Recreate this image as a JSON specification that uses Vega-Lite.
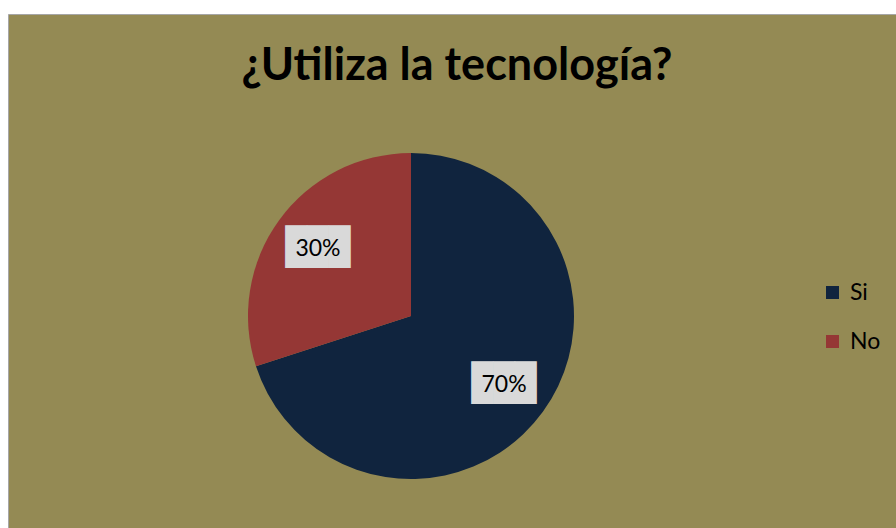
{
  "$schema": "https://vega.github.io/schema/vega-lite/v6.json",
  "autosize": {"type": "fit", "contains": "padding"},
  "width": 896,
  "height": 528,
  "padding": {"left": 8, "top": 14, "right": 0, "bottom": 0},
  "background": "white",
  "view": {"fill": "#948A54", "stroke": "#A6A6A6", "strokeWidth": 1},
  "config": {"font": "Lato"},
  "layer": [
    {
      "data": {"values": [{"t": "¿Utiliza la tecnología?"}]},
      "mark": {"type": "text", "font": "Lato", "fontSize": 45, "fontWeight": "bold", "color": "#000000", "baseline": "alphabetic", "align": "center", "dx": 5, "dy": -191},
      "encoding": {"text": {"field": "t", "type": "nominal"}}
    },
    {
      "data": {"values": [{"answer": "Si", "share": 0.7}, {"answer": "No", "share": 0.3}]},
      "layer": [
        {
          "mark": {"type": "arc", "outerRadius": 163, "x": 403, "y": 302},
          "encoding": {
            "theta": {"field": "share", "type": "quantitative", "stack": true},
            "order": {"field": "answer", "sort": "descending"},
            "color": {
              "field": "answer",
              "type": "nominal",
              "scale": {"domain": ["Si", "No"], "range": ["#10243E", "#953735"]},
              "legend": {
                "title": null,
                "orient": "none",
                "legendX": 813,
                "legendY": 267,
                "symbolType": "square",
                "symbolSize": 169,
                "symbolStrokeWidth": 0,
                "labelFont": "Lato",
                "labelFontSize": 23,
                "labelColor": "#000000",
                "labelOffset": 6,
                "rowPadding": 25
              }
            }
          }
        },
        {
          "mark": {"type": "text", "x": 403, "y": 302, "radius": 115, "text": "███", "font": "DejaVu Sans Mono", "fontSize": 36, "color": "#D9D9D9", "baseline": "middle", "align": "center"},
          "encoding": {
            "theta": {"field": "share", "type": "quantitative", "stack": true},
            "order": {"field": "answer", "sort": "descending"}
          }
        },
        {
          "mark": {"type": "text", "x": 403, "y": 302, "radius": 115, "font": "Lato", "fontSize": 23, "color": "#000000", "baseline": "middle", "align": "center", "dy": 1},
          "encoding": {
            "theta": {"field": "share", "type": "quantitative", "stack": true},
            "order": {"field": "answer", "sort": "descending"},
            "text": {"field": "share", "type": "quantitative", "format": ".0%"}
          }
        }
      ]
    }
  ]
}
